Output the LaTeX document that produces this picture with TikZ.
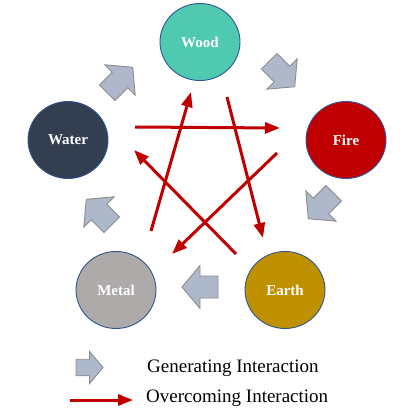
\documentclass[tikz,border=0pt]{standalone}
\usepackage{fontspec}
\setmainfont{Liberation Serif}
\usetikzlibrary{shapes.geometric,arrows.meta}
\definecolor{woodc}{HTML}{4FC9B0}
\definecolor{firec}{HTML}{C00000}
\definecolor{earthc}{HTML}{BF9000}
\definecolor{metalc}{HTML}{AEAAAA}
\definecolor{waterc}{HTML}{333F50}
\definecolor{rimc}{HTML}{2F5597}
\definecolor{genfill}{HTML}{ADB9CA}
\definecolor{genrim}{HTML}{8C8C8C}
\definecolor{redc}{HTML}{C00000}
\tikzset{
  element/.style={ellipse, draw=rimc, line width=0.9pt, minimum width=80pt, minimum height=77pt,
    inner sep=0pt, text=white, font=\fontsize{15}{18}\selectfont\bfseries},
  genstyle/.style={fill=genfill, draw=genrim, line width=0.9pt, line join=miter},
  genarrow/.pic={\draw[genstyle] (-18,-11) -- (0,-11) -- (0,-21.5) -- (18,0) -- (0,21.5) -- (0,11) -- (-18,11) -- cycle;},
  overcome/.style={draw=redc, line width=3pt, -{Triangle[length=15pt,width=11pt]}},
  legendtext/.style={anchor=west, inner sep=0pt, font=\fontsize{19}{22}\selectfont}
}
\begin{document}
\begin{tikzpicture}[x=1pt,y=-1pt]
\useasboundingbox (0,0) rectangle (402,409);
% elements
\node[element, fill=woodc] (wood) at (200,42) {Wood};
\node[element, fill=firec] (fire) at (346,140) {Fire};
\node[element, fill=earthc] (earth) at (285,290) {Earth};
\node[element, fill=metalc] (metal) at (116,290) {Metal};
\node[element, fill=waterc] (water) at (68,140) {Water};
% generating arrows
\pic[rotate=45] at (120,80) {genarrow};
\pic[rotate=-45] at (282,74) {genarrow};
\pic[rotate=-135] at (321,206) {genarrow};
\pic[rotate=180] at (200,287) {genarrow};
\pic[rotate=135] at (99,212) {genarrow};
% overcoming arrows endpoints
\coordinate (wf1) at (135,127);
\coordinate (wf2) at (280,128);
\coordinate (we1) at (227,97);
\coordinate (we2) at (263,238);
\coordinate (fm1) at (277,153);
\coordinate (fm2) at (172,254);
\coordinate (ew1) at (236,254);
\coordinate (ew2) at (134,150);
\coordinate (mw1) at (151,231);
\coordinate (mw2) at (191,92);
\draw[overcome] (wf1) -- (wf2);
\draw[overcome] (we1) -- (we2);
\draw[overcome] (fm1) -- (fm2);
\draw[overcome] (ew1) -- (ew2);
\draw[overcome] (mw1) -- (mw2);
% legend
\pic[scale=0.75] at (89.5,367.5) {genarrow};
\coordinate (lg1) at (70,400);
\coordinate (lg2) at (133,400);
\draw[overcome] (lg1) -- (lg2);
\node[legendtext] (gentext) at (147,368) {Generating Interaction};
\node[legendtext] (overtext) at (146,398) {Overcoming Interaction};
\end{tikzpicture}
\end{document}
